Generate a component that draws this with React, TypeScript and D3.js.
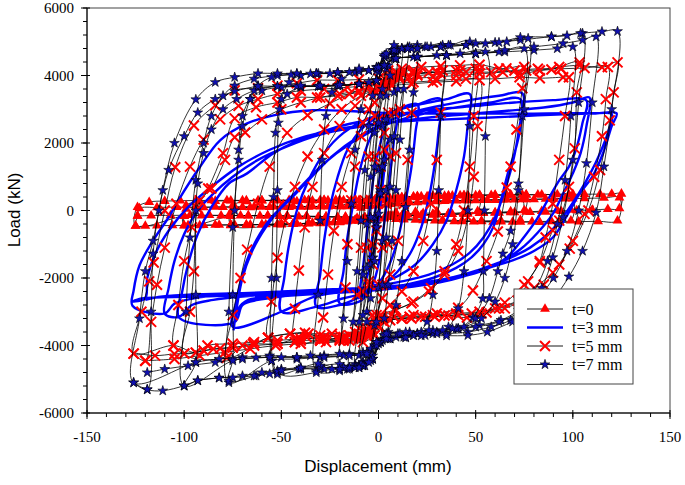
import React from 'react';
import * as d3 from 'd3';

type P = [number, number];

const xMajor = [-150, -100, -50, 0, 50, 100, 150];
const yMajor = [-6000, -4000, -2000, 0, 2000, 4000, 6000];
const legendNames = ['t=0', 't=3 mm', 't=5 mm', 't=7 mm'];

// t = 0 (red triangles)
const t0Loops: P[][] = [
  [[-10,-300],[-9,80],[-5,200],[0,250],[5,300],[10,330],[9,-60],[5,-150],[0,-200],[-5,-250],[-10,-300]],
  [[-20,-340],[-19,120],[-13,240],[-6,270],[1,300],[8,340],[14,370],[20,390],[19,-40],[13,-100],[6,-150],[-1,-200],[-8,-260],[-14,-300],[-20,-350]],
  [[-30,-360],[-29,150],[-22,260],[-14,280],[-6,290],[2,320],[10,370],[18,400],[25,420],[31,430],[30,-30],[23,-80],[15,-120],[7,-160],[0,-210],[-8,-270],[-16,-320],[-23,-350],[-30,-380]],
  [[-50,-400],[-49,180],[-42,270],[-34,290],[-26,300],[-18,300],[-10,305],[-2,315],[6,360],[14,400],[22,420],[30,430],[38,440],[46,450],[52,460],[51,-20],[44,-60],[36,-90],[28,-110],[20,-130],[12,-160],[4,-190],[-4,-240],[-12,-290],[-20,-330],[-28,-360],[-36,-380],[-44,-400],[-50,-420]],
  [[-76,-430],[-75,150],[-68,270],[-60,290],[-52,300],[-44,300],[-36,300],[-28,305],[-20,305],[-12,310],[-4,315],[4,340],[12,390],[20,420],[28,430],[36,440],[44,450],[52,455],[60,460],[68,465],[76,470],[75,0],[68,-30],[60,-60],[52,-80],[44,-100],[36,-110],[28,-120],[20,-140],[12,-160],[4,-190],[-4,-240],[-12,-290],[-20,-330],[-28,-360],[-36,-380],[-44,-400],[-52,-410],[-60,-420],[-68,-430],[-76,-440]],
  [[-76,-170],[-75,40],[-66,90],[-56,100],[-46,100],[-36,110],[-26,115],[-16,120],[-6,130],[4,170],[14,230],[24,260],[34,280],[44,300],[54,310],[64,320],[74,330],[73,-280],[63,-300],[53,-310],[43,-320],[33,-310],[23,-290],[13,-270],[3,-240],[-7,-210],[-17,-190],[-27,-180],[-37,-170],[-47,-160],[-57,-150],[-67,-150],[-76,-160]],
  [[-100,-440],[-99,150],[-92,260],[-84,280],[-76,290],[-68,295],[-60,300],[-52,300],[-44,300],[-36,305],[-28,305],[-20,310],[-12,310],[-4,320],[4,350],[12,390],[20,415],[28,425],[36,435],[44,445],[52,450],[60,455],[68,460],[76,465],[84,470],[92,475],[100,480],[99,20],[92,0],[84,-20],[76,-40],[68,-60],[60,-70],[52,-80],[44,-100],[36,-110],[28,-120],[20,-140],[12,-160],[4,-190],[-4,-240],[-12,-290],[-20,-330],[-28,-360],[-36,-380],[-44,-395],[-52,-405],[-60,-415],[-68,-420],[-76,-425],[-84,-430],[-92,-440],[-100,-450]],
  [[-100,-170],[-99,50],[-90,90],[-80,100],[-70,100],[-60,105],[-50,110],[-40,110],[-30,115],[-20,120],[-10,125],[0,140],[10,200],[20,240],[30,270],[40,290],[50,300],[60,310],[70,320],[80,330],[90,340],[100,350],[99,-300],[89,-320],[79,-330],[69,-340],[59,-340],[49,-330],[39,-320],[29,-300],[19,-280],[9,-260],[-1,-240],[-11,-220],[-21,-200],[-31,-190],[-41,-180],[-51,-170],[-61,-160],[-71,-150],[-81,-150],[-91,-150],[-100,-160]],
  [[-125,-460],[-124,100],[-118,250],[-110,280],[-102,290],[-94,295],[-86,300],[-78,300],[-70,300],[-62,300],[-54,300],[-46,305],[-38,305],[-30,305],[-22,310],[-14,310],[-6,315],[2,330],[10,380],[18,410],[26,425],[34,435],[42,445],[50,450],[58,455],[66,460],[74,465],[82,470],[90,475],[98,478],[106,482],[114,485],[120,490],[125,495],[124,60],[118,40],[110,20],[102,0],[94,-20],[86,-40],[78,-50],[70,-60],[62,-70],[54,-80],[46,-100],[38,-110],[30,-120],[22,-140],[14,-160],[6,-180],[-2,-220],[-10,-280],[-18,-320],[-26,-350],[-34,-370],[-42,-390],[-50,-400],[-58,-410],[-66,-420],[-74,-425],[-82,-430],[-90,-435],[-98,-440],[-106,-445],[-114,-450],[-120,-455],[-125,-460]],
  [[-124,-160],[-123,60],[-114,90],[-104,100],[-94,100],[-84,105],[-74,110],[-64,110],[-54,115],[-44,120],[-34,120],[-24,125],[-14,130],[-4,140],[6,190],[16,240],[26,270],[36,290],[46,300],[56,310],[66,320],[76,330],[86,340],[96,350],[106,360],[116,370],[124,380],[123,-300],[113,-320],[103,-330],[93,-340],[83,-345],[73,-340],[63,-330],[53,-320],[43,-300],[33,-280],[23,-260],[13,-240],[3,-220],[-7,-200],[-17,-190],[-27,-180],[-37,-170],[-47,-160],[-57,-150],[-67,-150],[-77,-145],[-87,-140],[-97,-140],[-107,-145],[-117,-150],[-124,-160]],
];

// t = 3 mm (blue)
const t3Loops: P[][] = [
  [[-5,-1600],[-3,-700],[-1,300],[1,1100],[3,1700],[5,2100],[3,1200],[1,200],[-1,-700],[-3,-1400],[-5,-1800]],
  [[-10,-2600],[-8,-1700],[-6,-700],[-4,300],[-2,1200],[1,2000],[4,2600],[7,2900],[10,3000],[8,2100],[6,1100],[4,100],[2,-800],[0,-1600],[-3,-2200],[-6,-2500],[-10,-2700]],
  [[-20,-2750],[-18,-1800],[-16,-800],[-13,200],[-10,1100],[-6,1900],[-1,2500],[5,2850],[12,3050],[20,3150],[19,2300],[17,1300],[14,300],[11,-600],[7,-1400],[2,-2000],[-4,-2400],[-11,-2600],[-20,-2800]],
  [[-32,-2850],[-30,-1900],[-28,-900],[-25,100],[-21,1000],[-16,1800],[-9,2400],[-1,2750],[8,2950],[18,3100],[32,3300],[31,2400],[29,1400],[26,400],[22,-500],[17,-1200],[10,-1800],[2,-2200],[-7,-2450],[-18,-2600],[-32,-2850]],
  [[-50,-3000],[-48.5,-2000],[-46,-1000],[-42,0],[-36,900],[-28,1700],[-18,2300],[-6,2700],[8,2950],[22,3150],[35,3300],[47,3450],[46,2600],[44,1600],[40,600],[35,-300],[28,-1000],[19,-1600],[8,-2000],[-4,-2250],[-18,-2400],[-33,-2550],[-50,-3000]],
  [[-75,-3450],[-73,-2670],[-69,-1690],[-63,-890],[-55,-200],[-46,300],[-36,900],[-24,1600],[-10,2200],[5,2650],[20,2950],[36,3150],[50,3300],[62,3400],[74,3470],[73,2460],[70,1700],[67,1190],[63,300],[59,-500],[54,-1000],[48,-1380],[40,-1700],[28,-2000],[14,-2200],[0,-2350],[-15,-2420],[-30,-2470],[-45,-2520],[-58,-2570],[-67,-2650],[-72,-2900],[-74.6,-3550]],
  [[-74.6,-3550],[-73,-2900],[-70,-2000],[-65,-1200],[-58,-500],[-50,100],[-40,700],[-28,1400],[-14,2000],[0,2450],[15,2750],[30,2950],[45,3100],[58,3200],[73,3300],[72,2300],[69,1400],[65,600],[60,-200],[54,-800],[47,-1250],[38,-1600],[26,-1900],[12,-2100],[-2,-2250],[-18,-2350],[-34,-2450],[-50,-2550],[-62,-2650],[-70,-2800],[-74,-3300]],
  [[-102.6,-3170],[-101,-2400],[-98,-1600],[-93,-700],[-86,100],[-77,800],[-67.6,1100],[-54,1700],[-40,2100],[-23,2450],[-8,2650],[10,2850],[30,3000],[50,3100],[70,3200],[90,3270],[107,3260],[105,2600],[102,1870],[98,1300],[93,890],[87,300],[81,-300],[74,-850],[66,-1390],[55,-1750],[40,-2000],[22,-2200],[5,-2300],[-12,-2350],[-30,-2420],[-50,-2480],[-70,-2550],[-85,-2650],[-96,-2800],[-102.6,-3150]],
  [[-110,-3060],[-108,-2300],[-105,-1500],[-100,-700],[-93,0],[-85,500],[-75,1000],[-62,1500],[-47,1900],[-30,2250],[-13,2450],[5,2600],[25,2750],[45,2850],[65,2950],[85,3050],[100,3200],[108.5,3350],[107,2500],[104,1700],[100,1100],[95,500],[89.7,-100],[82,-650],[73,-1150],[62,-1550],[48,-1850],[32,-2050],[15,-2200],[-2,-2280],[-20,-2350],[-40,-2400],[-60,-2450],[-80,-2500],[-95,-2600],[-105,-2760],[-110,-3050]],
  [[-126.6,-2820],[-126,-2370],[-123,-1630],[-116,-890],[-108,-200],[-103,300],[-92,1280],[-81.5,2080],[-67.6,2580],[-54,2820],[-33.7,2970],[-16,2950],[0,2900],[20,2880],[40,2870],[60,2870],[80,2870],[100,2880],[112,2880],[122.5,2880],[120,2500],[115.5,1690],[110,1000],[103.5,500],[97,-150],[89.7,-800],[80,-1200],[69,-1480],[57,-1690],[44,-1950],[31.6,-2130],[18,-2250],[6,-2320],[-7,-2380],[-20,-2430],[-40,-2470],[-60,-2500],[-80,-2530],[-100,-2560],[-115,-2580],[-123,-2620],[-126.6,-2700]],
  [[-120,-2600],[-119,-2000],[-115,-1300],[-108,-600],[-98,100],[-86,700],[-72,1300],[-56,1800],[-40,2150],[-22,2400],[-5,2550],[15,2650],[35,2700],[55,2750],[75,2800],[95,2850],[110,2870],[120,2850],[118,2300],[114,1700],[109,1100],[103,500],[96,-100],[88,-650],[78,-1100],[66,-1450],[52,-1750],[38,-1980],[22,-2150],[6,-2250],[-10,-2300],[-30,-2350],[-50,-2400],[-70,-2450],[-90,-2480],[-105,-2520],[-115,-2580],[-120,-2650]],
];

// t = 5 mm (red crosses)
const t5Loops: P[][] = [
  [[-5,-2100],[-3,-1000],[-1,200],[1,1300],[3,2300],[5,2900],[3,1800],[1,600],[-1,-600],[-3,-1600],[-5,-2200]],
  [[-10,-3500],[-8,-2400],[-6,-1100],[-4,300],[-2,1600],[0,2700],[3,3500],[6,3900],[10,4050],[8,2900],[6,1600],[4,200],[2,-1100],[0,-2200],[-3,-3100],[-6,-3500],[-10,-3700]],
  [[-13,-3750],[-11,-2500],[-9,-1100],[-7,300],[-5,1600],[-2,2800],[1,3600],[5,4000],[9,4100],[13,4150],[11,3000],[9,1700],[7,300],[5,-1000],[2,-2200],[-1,-3100],[-5,-3600],[-9,-3750],[-13,-3800]],
  [[-18,-3800],[-17,-2280],[-16,-1000],[-14,300],[-12,1300],[-9,2200],[-5,3000],[-1,3500],[3,3900],[8,4050],[13,4100],[18,4150],[17,2900],[15,1500],[13,200],[10,-900],[6,-1900],[2,-2600],[-2,-3200],[-6,-3600],[-12,-3750],[-18,-3850]],
  [[-30,-3850],[-28.5,-3170],[-26,-1900],[-23,-600],[-19,700],[-14,1700],[-8,2600],[-2,3200],[4,3700],[11,3950],[18,4050],[26,4100],[33,4150],[32,2900],[30,1500],[27,200],[23,-900],[18,-1800],[12,-2400],[6,-2800],[1,-3100],[-4,-3500],[-10,-3700],[-18,-3750],[-30,-3850]],
  [[-43,-3900],[-43,-2910],[-41,-1780],[-38,-500],[-34,700],[-28,1700],[-20,2500],[-12,3100],[-4,3500],[3,3800],[10,3950],[20,4050],[30,4100],[40,4150],[50,4200],[49,2800],[47,1300],[44,0],[40,-1000],[34,-1800],[27,-2300],[18,-2700],[9,-2950],[2,-3150],[-3,-3500],[-10,-3650],[-20,-3700],[-30,-3700],[-37,-3750],[-43,-3900]],
  [[-56.8,-3770],[-55,-2700],[-52,-1400],[-48,-300],[-43,700],[-36.5,1600],[-28,2400],[-19,3000],[-9,3400],[0,3600],[7,3700],[17,3750],[28,3800],[40,3830],[52,3860],[51,2500],[49,1000],[46,-200],[41,-1200],[34,-1900],[26,-2400],[17,-2750],[8,-2950],[1,-3100],[-4,-3450],[-12,-3600],[-24,-3650],[-36,-3650],[-45.5,-3650],[-56.8,-3770]],
  [[-78,-4360],[-75,-3100],[-71,-2000],[-67.6,-1160],[-62,200],[-56,1300],[-47,2300],[-36.5,2820],[-25,3170],[-15,3450],[-5,3650],[2,3800],[8,4000],[18,4050],[30,4100],[42,4150],[52,4180],[65.8,4210],[75,4250],[74,3620],[71,2400],[68,1300],[66,680],[61.4,-620],[55.6,-1500],[48.6,-2370],[41,-2880],[30,-3050],[18,-3100],[8,-3150],[2,-3250],[-3,-3600],[-10,-3750],[-20,-3800],[-30,-3800],[-42,-3800],[-52,-3950],[-64.5,-3950],[-70,-4000],[-78,-4360]],
  [[-100,-4240],[-97,-3000],[-95,-1800],[-93,60],[-87.6,650],[-80,1700],[-74,2730],[-63,3060],[-52,3200],[-42,3350],[-31.6,3350],[-21,3400],[-10,3500],[0,3600],[6,3800],[15,3900],[28,3950],[40,4000],[52,4050],[64,4100],[76,4150],[89,4180],[103.5,4390],[102,3500],[101,1840],[98,700],[93,-300],[89.7,-590],[83,-1540],[75,-2200],[65,-2730],[55.6,-3020],[45.5,-3170],[34,-3110],[22,-3150],[12,-3200],[3,-3300],[-2,-3700],[-10,-3800],[-20,-3850],[-30,-3850],[-40,-3850],[-52,-3950],[-64,-4000],[-75,-4060],[-81.5,-4090],[-90,-4150],[-100,-4240]],
  [[-105.5,-4000],[-103,-2800],[-100,-1500],[-96,-500],[-92,300],[-86,650],[-79,1500],[-74,2170],[-68.6,2310],[-60,2700],[-50,3000],[-40,3200],[-30,3350],[-20,3450],[-10,3550],[0,3620],[6,3750],[18,3800],[30,3850],[45,3900],[60,3900],[72.6,3950],[83,3920],[95,3950],[98,3950],[96,2800],[93,1500],[89.7,200],[86,-800],[83,-1500],[77,-2100],[71.7,-2670],[62,-2900],[52,-3000],[40,-3050],[28,-3100],[16,-3150],[5,-3200],[0,-3400],[-5,-3650],[-15,-3700],[-28,-3750],[-40,-3800],[-52,-3850],[-64,-3900],[-75,-3950],[-88,-4000],[-94,-4210],[-105.5,-4000]],
  [[-126,-4240],[-122,-3000],[-118,-2100],[-115.7,-1540],[-110,0],[-104.6,1280],[-95,2520],[-84,3120],[-74,3560],[-62,3620],[-52,3700],[-42,3770],[-31.6,3860],[-21,3860],[-10,3880],[0,3920],[5,4150],[12,4200],[22,4250],[32,4280],[42,4300],[52,4320],[62,4200],[72.6,4060],[83,4150],[93,4250],[103.5,4300],[115,4240],[123,4390],[121,3500],[119,2670],[114,1200],[108,0],[98.4,-1130],[89.7,-1840],[80,-2300],[71.7,-2670],[60,-2900],[48,-3050],[36,-3110],[24,-3150],[12,-3200],[3,-3300],[-2,-3700],[-8,-3900],[-18,-3850],[-28,-3800],[-37.8,-3620],[-45.5,-3650],[-56.8,-3770],[-64.5,-3950],[-75,-4060],[-85,-4100],[-94,-4210],[-105,-4250],[-115,-4300],[-126,-4240]],
  [[-120,-4450],[-117,-3300],[-114,-2200],[-110,-1100],[-104,200],[-97,1300],[-90,2100],[-81.5,2700],[-72,3100],[-62,3300],[-52,3450],[-40,3550],[-28,3600],[-16,3650],[-5,3700],[2,3800],[8,3950],[20,4000],[32,4050],[45,4100],[58,4100],[70,4150],[82,4200],[94,4200],[106,4220],[118,4250],[117,3300],[115,2200],[111,1000],[106,-100],[100,-900],[93,-1600],[85,-2200],[76,-2600],[65,-2900],[53,-3050],[41,-3100],[29,-3150],[17,-3200],[6,-3250],[0,-3450],[-5,-3750],[-15,-3850],[-27,-3900],[-40,-3950],[-53,-4000],[-66,-4100],[-79,-4200],[-92,-4300],[-105,-4400],[-120,-4450]],
];

// t = 7 mm (blue stars)
const t7Loops: P[][] = [
  [[-3,-1400],[-1,-400],[1,600],[3,1500],[1,500],[-1,-500],[-3,-1400]],
  [[-6,-3000],[-4,-1600],[-2,-200],[0,1200],[2,2500],[4,3400],[6,4000],[4,2700],[2,1300],[0,-100],[-2,-1500],[-4,-2600],[-6,-3300]],
  [[-10,-4300],[-8,-3100],[-6,-1700],[-4,-200],[-2,1300],[0,2600],[2,3600],[5,4300],[8,4600],[10,4750],[8,3500],[6,2100],[4,600],[2,-900],[0,-2300],[-2,-3400],[-5,-4200],[-8,-4500],[-10,-4600]],
  [[-12,-4550],[-10,-3300],[-8,-1900],[-6,-400],[-4,1000],[-2,2300],[1,3400],[4,4200],[8,4650],[12,4800],[10,3600],[8,2200],[6,700],[4,-800],[2,-2200],[-1,-3300],[-4,-4100],[-8,-4500],[-12,-4600]],
  [[-15,-4650],[-13,-3300],[-11,-1800],[-9,-300],[-7,1200],[-5,2500],[-3,3400],[0,4100],[4,4600],[8,4750],[12,4800],[15,4850],[13,3600],[11,2100],[9,600],[7,-900],[5,-2200],[3,-3200],[0,-3900],[-4,-4400],[-8,-4600],[-12,-4650],[-15,-4700]],
  [[-20,-4700],[-18,-3200],[-16,-1500],[-14,200],[-12,1800],[-9,3000],[-5,3800],[-1,4150],[3,4550],[7,4750],[12,4800],[16,4850],[20,4900],[18,3500],[16,1800],[14,100],[12,-1500],[9,-2800],[5,-3600],[1,-3900],[-3,-4400],[-7,-4600],[-12,-4650],[-16,-4700],[-20,-4750]],
  [[-32,-4750],[-31,-2500],[-30,-300],[-29,1500],[-27,2800],[-24,3500],[-19,3900],[-12,4100],[-5,4150],[0,4250],[4,4600],[8,4750],[15,4800],[24,4850],[33,4900],[32,2800],[31,600],[30,-1200],[28,-2500],[25,-3300],[20,-3650],[13,-3750],[6,-3800],[1,-3900],[-3,-4400],[-8,-4600],[-15,-4650],[-24,-4700],[-32,-4800]],
  [[-52,-4800],[-52.5,-2000],[-52,600],[-51.5,2600],[-50,3300],[-46,3800],[-40,4000],[-31,4060],[-21,4080],[-10,4150],[-1,4250],[3,4550],[8,4750],[17,4800],[27,4850],[37,4900],[47,5000],[47,2500],[46,0],[44,-1800],[41,-2900],[36,-3450],[28,-3650],[18,-3700],[9,-3750],[2,-3850],[-3,-4300],[-9,-4550],[-18,-4650],[-28,-4700],[-40,-4700],[-52,-4850]],
  [[-55,-4450],[-55,-2000],[-54,400],[-53,2300],[-51,3000],[-47,3450],[-40,3650],[-31,3680],[-21,3700],[-10,3750],[-1,3850],[3,4300],[8,4500],[18,4550],[30,4600],[42,4650],[55,4700],[55,2200],[54.5,0],[54,-1800],[53.6,-2610],[48.6,-3170],[41,-3500],[30,-3600],[20,-3650],[10,-3650],[3,-3700],[-2,-4000],[-8,-4250],[-18,-4300],[-30,-4350],[-42,-4400],[-55,-4450]],
  [[-77,-5100],[-77,-3000],[-75,-500],[-72,1500],[-70,2500],[-66,3300],[-62,3700],[-55,3950],[-45,4020],[-35,4050],[-25,4060],[-15,4100],[-5,4150],[0,4250],[4,4600],[9,4750],[20,4800],[32,4850],[45,4900],[55,4950],[66,5000],[77,5100],[75,3000],[72,800],[68,-600],[64,-1280],[61.4,-1800],[57,-2600],[50,-3200],[41,-3500],[30,-3650],[18,-3700],[6,-3800],[1,-3900],[-3,-4400],[-8,-4600],[-18,-4650],[-30,-4650],[-41,-4700],[-52,-4750],[-63,-4900],[-77,-5050]],
  [[-75,-4400],[-75,-2500],[-74,0],[-72,1800],[-70,2800],[-66,3300],[-60,3550],[-50,3650],[-40,3680],[-30,3680],[-20,3700],[-10,3750],[-1,3850],[3,4300],[9,4500],[20,4550],[35,4600],[50,4650],[62,4700],[75,4800],[74,2800],[72,600],[69,-1000],[65,-2000],[60,-2700],[53,-3200],[44,-3450],[33,-3550],[22,-3600],[11,-3650],[3,-3700],[-2,-4000],[-8,-4200],[-20,-4250],[-35,-4300],[-50,-4350],[-63,-4360],[-75,-4450]],
  [[-100,-5200],[-99,-3000],[-97,-800],[-94,900],[-90,2000],[-86,2800],[-80,3400],[-74,3700],[-64,3900],[-52,4000],[-42,4050],[-32,4060],[-21,4080],[-10,4120],[-1,4230],[3,4600],[8,4750],[20,4800],[32,4850],[45,4900],[60,4980],[73,5050],[89,5150],[97,5180],[105,5250],[103,3200],[100,1500],[95,-200],[89.7,-1390],[84,-2300],[77,-2900],[68,-3250],[58,-3450],[46,-3600],[35,-3650],[24,-3700],[14,-3750],[5,-3800],[0,-3950],[-4,-4450],[-10,-4650],[-20,-4550],[-30,-4600],[-40,-4660],[-50,-4700],[-60,-4800],[-70,-4900],[-82,-4960],[-93,-5040],[-100,-5190]],
  [[-94,-4500],[-94,-2500],[-94,0],[-93,800],[-90,1700],[-86,2400],[-80,3000],[-73,3300],[-64,3550],[-52,3680],[-42,3680],[-31,3680],[-21,3700],[-10,3750],[-1,3850],[3,4300],[9,4500],[20,4550],[35,4600],[50,4650],[65,4700],[80,4750],[92,4800],[100,4850],[99,2800],[96,900],[92,-400],[87,-1500],[80,-2400],[72,-2950],[63,-3250],[52,-3400],[40,-3500],[28,-3550],[16,-3600],[5,-3650],[-1,-3900],[-6,-4200],[-15,-4250],[-28,-4300],[-42,-4350],[-56,-4300],[-70,-4350],[-82,-4400],[-94,-4500]],
  [[-126,-5100],[-123,-3200],[-120,-1800],[-116,-900],[-111,600],[-105,2000],[-94,3290],[-84,3800],[-74,3950],[-62,4060],[-52,4060],[-42,4060],[-32,4060],[-21,4100],[-10,4200],[0,4240],[4,4650],[8,4900],[15,4800],[25,4850],[36,4900],[50,4950],[62,4980],[73,5130],[89,5150],[104,5250],[115,5300],[123,5310],[120,3000],[116,1300],[112,-60],[105,-1200],[98,-1960],[90,-2600],[80,-3050],[69,-3300],[56,-3600],[46,-3700],[35,-3710],[22,-3710],[14,-3770],[4,-3800],[-1,-4000],[-5,-4500],[-10,-4660],[-20,-4700],[-31,-4540],[-40,-4660],[-50,-4750],[-56,-4840],[-64,-4900],[-75,-4950],[-82,-4960],[-93,-5040],[-100,-5190],[-111,-5340],[-119,-5310],[-126,-5100]],
  [[-119,-5300],[-117,-3000],[-116,-1280],[-113,0],[-108,1200],[-100,2200],[-93,2900],[-84,3300],[-74,3530],[-62,3680],[-52,3680],[-40,3700],[-30,3700],[-20,3720],[-10,3750],[-1,3850],[3,4300],[9,4500],[20,4550],[35,4600],[50,4650],[65,4750],[80,4850],[95,4950],[105,5050],[112,5150],[110,3200],[107,1400],[103,0],[97,-1200],[90,-2000],[82,-2600],[73,-3000],[62,-3300],[50,-3450],[38,-3500],[26,-3550],[14,-3600],[4,-3650],[-1,-3900],[-6,-4250],[-15,-4300],[-28,-4350],[-42,-4350],[-56,-4350],[-70,-4400],[-84,-4500],[-98,-4600],[-110,-4700],[-119,-4800]],
];

const t0 = t0Loops.flat();
const t3 = t3Loops.flat();
const t5 = t5Loops.flat();
const t7 = t7Loops.flat();

export default function App() {
  const W = 685, H = 485;
  const L = 87, R = 670, T = 8, B = 413;
  const x = d3.scaleLinear().domain([-150, 150]).range([L, R]);
  const y = d3.scaleLinear().domain([-6000, 6000]).range([B, T]);
  const line = d3.line<P>().x(d => x(d[0])).y(d => y(d[1])).curve(d3.curveCatmullRom.alpha(0.5));
  const tri = d3.symbol().type(d3.symbolTriangle).size(42)() as string;
  const star = d3.symbol().type(d3.symbolStar).size(30)() as string;
  const cross = 'M-5,-5L5,5M-5,5L5,-5';
  const serif = 'Liberation Serif, Times New Roman, serif';
  const sans = 'Liberation Sans, Arial, sans-serif';
  const xMinor = d3.range(-150, 151, 10);
  const yMinor = d3.range(-6000, 6001, 400);
  const legendY = [309, 327.5, 346, 364.5];

  return (
    <svg width={W} height={H} style={{ position: 'absolute', left: 0, top: 0, background: '#fff' }}>
      <defs>
        <clipPath id="plot"><rect x={L} y={T} width={R - L} height={B - T} /></clipPath>
      </defs>
      <rect x={0} y={0} width={W} height={H} fill="#fff" />
      <g clipPath="url(#plot)">
        <path d={line(t0) || ''} fill="none" stroke="#000" strokeWidth={0.8} />
        {t0.map((p, i) => (
          <path key={'a' + i} d={tri} transform={`translate(${x(p[0])},${y(p[1])})`} fill="#ff0000" />
        ))}
        <path d={line(t3) || ''} fill="none" stroke="#0000ff" strokeWidth={2.4} />
        <path d={line(t5) || ''} fill="none" stroke="#000" strokeWidth={0.8} />
        {t5.map((p, i) => (
          <path key={'c' + i} d={cross} transform={`translate(${x(p[0])},${y(p[1])})`} stroke="#ff0000" strokeWidth={2} fill="none" />
        ))}
        <path d={line(t7) || ''} fill="none" stroke="#000" strokeWidth={0.8} />
        {t7.map((p, i) => (
          <path key={'s' + i} d={star} transform={`translate(${x(p[0])},${y(p[1])})`} fill="#1010b0" stroke="#000" strokeWidth={0.6} />
        ))}
      </g>
      <rect x={L} y={T} width={R - L} height={B - T} fill="none" stroke="#444" strokeWidth={1} />
      <line x1={L} x2={L} y1={T} y2={B} stroke="#000" />
      <line x1={L} x2={R} y1={B} y2={B} stroke="#000" />
      {xMinor.map(v => (
        <line key={'xm' + v} x1={x(v)} x2={x(v)} y1={B} y2={B + 4} stroke="#000" />
      ))}
      {xMajor.map(v => (
        <g key={'xt' + v}>
          <line x1={x(v)} x2={x(v)} y1={B - 3} y2={B + 6} stroke="#000" />
          <text x={x(v)} y={442} textAnchor="middle" fontFamily={serif} fontSize={15}>{v}</text>
        </g>
      ))}
      {yMinor.map(v => (
        <line key={'ym' + v} x1={L - 4} x2={L} y1={y(v)} y2={y(v)} stroke="#000" />
      ))}
      {yMajor.map(v => (
        <g key={'yt' + v}>
          <line x1={L - 6} x2={L + 3} y1={y(v)} y2={y(v)} stroke="#000" />
          <text x={74} y={y(v)} dy="0.35em" textAnchor="end" fontFamily={serif} fontSize={15}>{v}</text>
        </g>
      ))}
      <text x={378} y={472} textAnchor="middle" fontFamily={sans} fontSize={17}>Displacement (mm)</text>
      <text transform="translate(20,210) rotate(-90)" textAnchor="middle" fontFamily={sans} fontSize={17}>Load (kN)</text>
      <g>
        <rect x={514} y={289} width={119} height={95} fill="#fff" stroke="#444" strokeWidth={1} />
        {legendNames.map((n, i) => {
          const ly = legendY[i];
          return (
            <g key={n}>
              <line x1={527} x2={563} y1={ly} y2={ly} stroke={i === 1 ? '#0000ff' : '#000'} strokeWidth={i === 1 ? 2.6 : 0.9} />
              {i === 0 && <path d={tri} transform={`translate(545,${ly})`} fill="#ff0000" />}
              {i === 2 && <path d={cross} transform={`translate(545,${ly})`} stroke="#ff0000" strokeWidth={2} fill="none" />}
              {i === 3 && <path d={star} transform={`translate(545,${ly})`} fill="#1010b0" stroke="#000" strokeWidth={0.6} />}
              <text x={572} y={ly} dy="0.35em" fontFamily={serif} fontSize={16}>{n}</text>
            </g>
          );
        })}
      </g>
    </svg>
  );
}
